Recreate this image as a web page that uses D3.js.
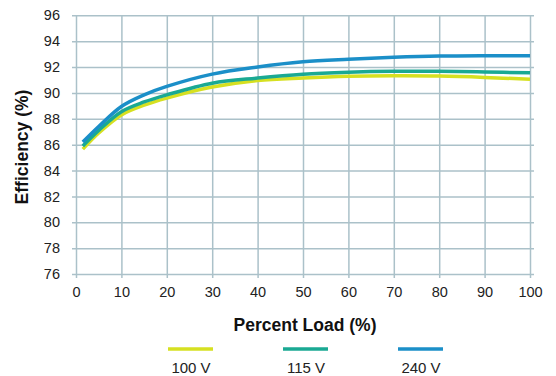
<!DOCTYPE html>
<html lang="en">
<head>
<meta charset="UTF-8">
<title>Efficiency vs Load</title>
<script src="https://cdn.jsdelivr.net/npm/d3@7/dist/d3.min.js"></script>
<style>
  body { margin: 0; background: #fff; }
  svg { display: block; font-family: "Liberation Sans", Arial, Helvetica, sans-serif; }
  .tick text { font-size: 14.5px; fill: #222; }
  .grid line { stroke: #abc1c9; stroke-width: 1.5px; }
  .grid path { display: none; }
  .title { font-size: 17.5px; font-weight: bold; fill: #111; text-anchor: middle; }
  .legend text { font-size: 15px; fill: #222; text-anchor: middle; }
</style>
</head>
<body>
<script>
// data
var load = [1.5, 5, 10, 15, 20, 30, 40, 50, 60, 70, 80, 90, 100];
var v100 = [85.65, 86.9, 88.3, 89.05, 89.6, 90.45, 90.95, 91.15, 91.28, 91.32, 91.3, 91.2, 91.05];
var v115 = [85.9, 87.1, 88.55, 89.3, 89.85, 90.75, 91.15, 91.45, 91.6, 91.67, 91.67, 91.62, 91.55];
var v240 = [86.2, 87.4, 88.95, 89.85, 90.5, 91.45, 92.0, 92.4, 92.6, 92.75, 92.85, 92.88, 92.88];
var seriesNames = ["100 V", "115 V", "240 V"];
var seriesColors = ["#d6e021", "#1aa993", "#1b8fc8"];
var xTicks = [0, 10, 20, 30, 40, 50, 60, 70, 80, 90, 100];
var yTicks = [76, 78, 80, 82, 84, 86, 88, 90, 92, 94, 96];

var width = 556, height = 376;
var svg = d3.select("body").append("svg")
  .attr("width", width)
  .attr("height", height);

var x = d3.scaleLinear().domain([0, 100]).range([76, 530]);
var y = d3.scaleLinear().domain([76, 96]).range([274, 15.3]);

// horizontal grid (extends past the plot a bit on both sides)
svg.append("g").attr("class", "grid")
  .attr("transform", "translate(534,0)")
  .call(d3.axisLeft(y).tickValues(yTicks).tickSize(462).tickFormat(""));

// vertical grid
svg.append("g").attr("class", "grid")
  .attr("transform", "translate(0,278)")
  .call(d3.axisTop(x).tickValues(xTicks).tickSize(263).tickFormat(""));

// tick labels
var ay = svg.append("g")
  .attr("transform", "translate(72,0)")
  .call(d3.axisLeft(y).tickValues(yTicks).tickSize(0).tickPadding(12));
ay.select(".domain").remove();

var ax = svg.append("g")
  .attr("transform", "translate(0,278)")
  .call(d3.axisBottom(x).tickValues(xTicks).tickSize(0).tickPadding(9));
ax.select(".domain").remove();

// lines
var all = [v100, v115, v240];
var line = d3.line()
  .x(function(d, i) { return x(load[i]); })
  .y(function(d) { return y(d); })
  .curve(d3.curveCatmullRom.alpha(0.5));

svg.append("g").selectAll("path")
  .data(all)
  .enter().append("path")
  .attr("d", line)
  .attr("fill", "none")
  .attr("stroke", function(d, i) { return seriesColors[i]; })
  .attr("stroke-width", 3.5);

// axis titles
svg.append("text").attr("class", "title")
  .attr("x", 305).attr("y", 331)
  .text("Percent Load (%)");

svg.append("text").attr("class", "title")
  .attr("transform", "translate(28,147) rotate(-90)")
  .text("Efficiency (%)");

// legend
var lx = [168, 283, 398];
var legend = svg.append("g").attr("class", "legend")
  .selectAll("g")
  .data(seriesNames)
  .enter().append("g")
  .attr("transform", function(d, i) { return "translate(" + lx[i] + ",0)"; });

legend.append("line")
  .attr("x1", 0).attr("x2", 45)
  .attr("y1", 349).attr("y2", 349)
  .attr("stroke", function(d, i) { return seriesColors[i]; })
  .attr("stroke-width", 3.5);

legend.append("text")
  .attr("x", 23).attr("y", 373)
  .text(function(d) { return d; });
</script>
</body>
</html>
